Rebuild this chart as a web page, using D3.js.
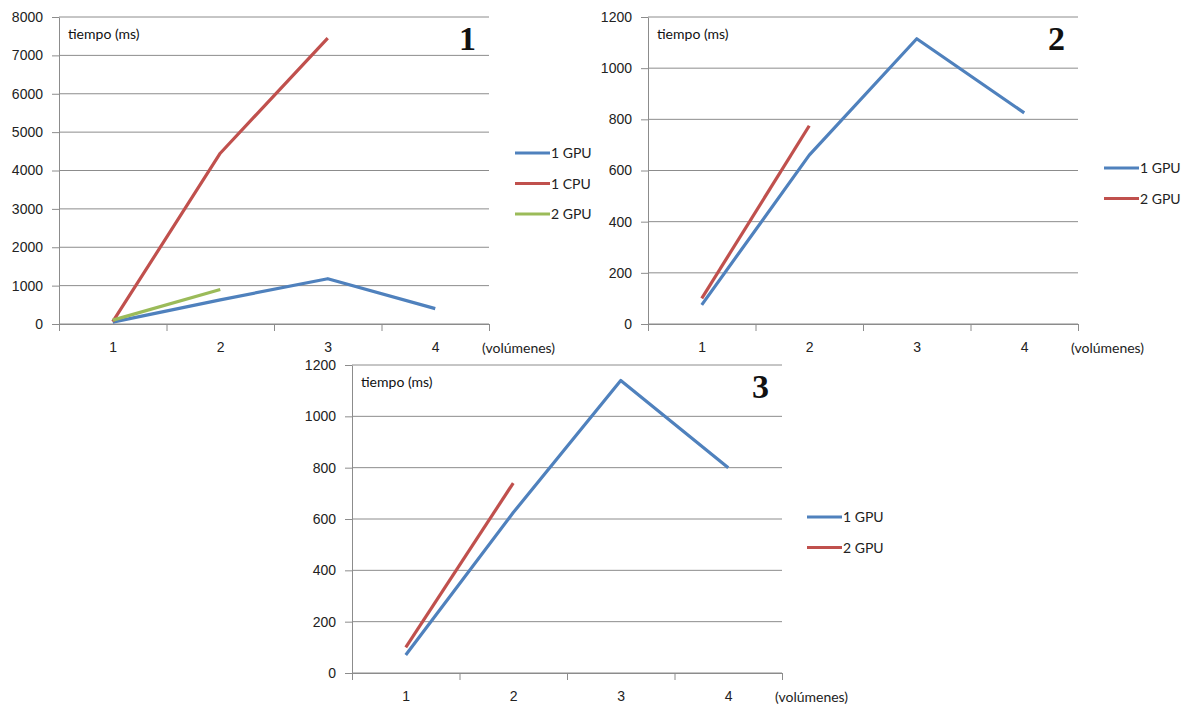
<!DOCTYPE html>
<html>

<head>
    <meta charset="utf-8">
    <style>
        body {
            margin: 0;
            background: white;
        }

        svg {
            font-family: Lato, 'Open Sans', sans-serif;
        }

        .tick text {
            fill: #222;
        }
    </style>
</head>

<body>
    <svg width="1188" height="706"></svg>
</body>

<script src="https://d3js.org/d3.v7.min.js"></script>

<script>
    // categories on the x axis (number of volumes)
    let categories = [1, 2, 3, 4]

    // chart 1
    let chart1Gpu1 = [50, 630, 1180, 400]
    let chart1Cpu1 = [60, 4450, 7450, null]
    let chart1Gpu2 = [100, 900, null, null]
    let ticks1 = [0, 1000, 2000, 3000, 4000, 5000, 6000, 7000, 8000]

    // chart 2
    let chart2Gpu1 = [75, 660, 1115, 825]
    let chart2Gpu2 = [100, 775, null, null]

    // chart 3
    let chart3Gpu1 = [70, 625, 1140, 800]
    let chart3Gpu2 = [100, 740, null, null]
    let ticks23 = [0, 200, 400, 600, 800, 1000, 1200]

    let blue = "#4F81BD"
    let red = "#C0504D"
    let green = "#9BBB59"
    let grid = "#8c8c8c"

    let svg = d3.select("svg")

    function drawChart(cfg) {
        let g = svg.append("g")

        let x = d3.scaleLinear()
            .domain([0.5, 4.5])
            .range([cfg.left, cfg.right])

        let y = d3.scaleLinear()
            .domain([0, d3.max(cfg.ticks)])
            .range([cfg.bottom, cfg.top])

        // gridlines
        g.selectAll(".grid")
            .data(cfg.ticks)
            .join("line")
            .attr("x1", cfg.left)
            .attr("x2", cfg.right)
            .attr("y1", d => y(d))
            .attr("y2", d => y(d))
            .style("stroke", grid)
            .style("stroke-width", 1)

        // y axis
        let yAxis = g.append("g")
            .attr("transform", "translate(" + cfg.left + ",0)")
            .call(d3.axisLeft(y).tickValues(cfg.ticks).tickFormat(d3.format("d"))
                .tickSize(7).tickSizeOuter(0).tickPadding(9))
        yAxis.selectAll("text").style("font-size", "14px")

        // x axis: tick marks between categories
        g.append("g")
            .attr("transform", "translate(0," + cfg.bottom + ")")
            .call(d3.axisBottom(x).tickValues([0.5, 1.5, 2.5, 3.5, 4.5]).tickFormat("").tickSize(7).tickSizeOuter(0))

        // x labels in the middle of each category
        let xLabels = g.append("g")
            .attr("transform", "translate(0," + cfg.bottom + ")")
            .call(d3.axisBottom(x).tickValues(categories).tickFormat(d3.format("d")).tickSize(0).tickPadding(18))
        xLabels.select(".domain").remove()
        xLabels.selectAll("text").style("font-size", "14px")

        g.selectAll(".domain, .tick line")
            .style("stroke", grid)

        g.append("text")
            .attr("x", cfg.right - 7)
            .attr("y", cfg.bottom + 29)
            .style("font-size", "14px")
            .style("fill", "#222")
            .text("(volúmenes)")

        g.append("text")
            .attr("x", cfg.left + 9)
            .attr("y", cfg.top + 22)
            .style("font-size", "14px")
            .style("fill", "#111")
            .text("tiempo (ms)")

        g.append("text")
            .attr("x", cfg.right - 30)
            .attr("y", cfg.top + 33)
            .style("font-family", "'Liberation Serif', 'DejaVu Serif', serif")
            .style("font-weight", "bold")
            .style("font-size", "34px")
            .style("fill", "#111")
            .text(cfg.number)

        let line = d3.line()
            .defined(d => d[1] != null)
            .x(d => x(d[0]))
            .y(d => y(d[1]))

        cfg.series.forEach((s, i) => {
            g.append("path")
                .datum(categories.map((c, j) => [c, s.values[j]]))
                .attr("d", line)
                .style("fill", "none")
                .style("stroke", s.color)
                .style("stroke-width", 3.2)
                .style("stroke-linejoin", "round")

            // legend
            let ly = cfg.legendY + i * 30.5
            g.append("line")
                .attr("x1", cfg.legendX)
                .attr("x2", cfg.legendX + 35)
                .attr("y1", ly)
                .attr("y2", ly)
                .style("stroke", s.color)
                .style("stroke-width", 3.2)
            g.append("text")
                .attr("x", cfg.legendX + 36)
                .attr("y", ly + 5)
                .style("font-size", "14px")
                .style("fill", "#222")
                .text(s.name)
        })
    }

    drawChart({
        left: 59, right: 489, top: 17, bottom: 324,
        ticks: ticks1, number: "1",
        legendX: 515, legendY: 153,
        series: [
            { name: "1 GPU", values: chart1Gpu1, color: blue },
            { name: "1 CPU", values: chart1Cpu1, color: red },
            { name: "2 GPU", values: chart1Gpu2, color: green }
        ]
    })

    drawChart({
        left: 648, right: 1078, top: 17, bottom: 324,
        ticks: ticks23, number: "2",
        legendX: 1104, legendY: 168,
        series: [
            { name: "1 GPU", values: chart2Gpu1, color: blue },
            { name: "2 GPU", values: chart2Gpu2, color: red }
        ]
    })

    drawChart({
        left: 352, right: 782, top: 365, bottom: 673,
        ticks: ticks23, number: "3",
        legendX: 807, legendY: 517,
        series: [
            { name: "1 GPU", values: chart3Gpu1, color: blue },
            { name: "2 GPU", values: chart3Gpu2, color: red }
        ]
    })
</script>

</html>
